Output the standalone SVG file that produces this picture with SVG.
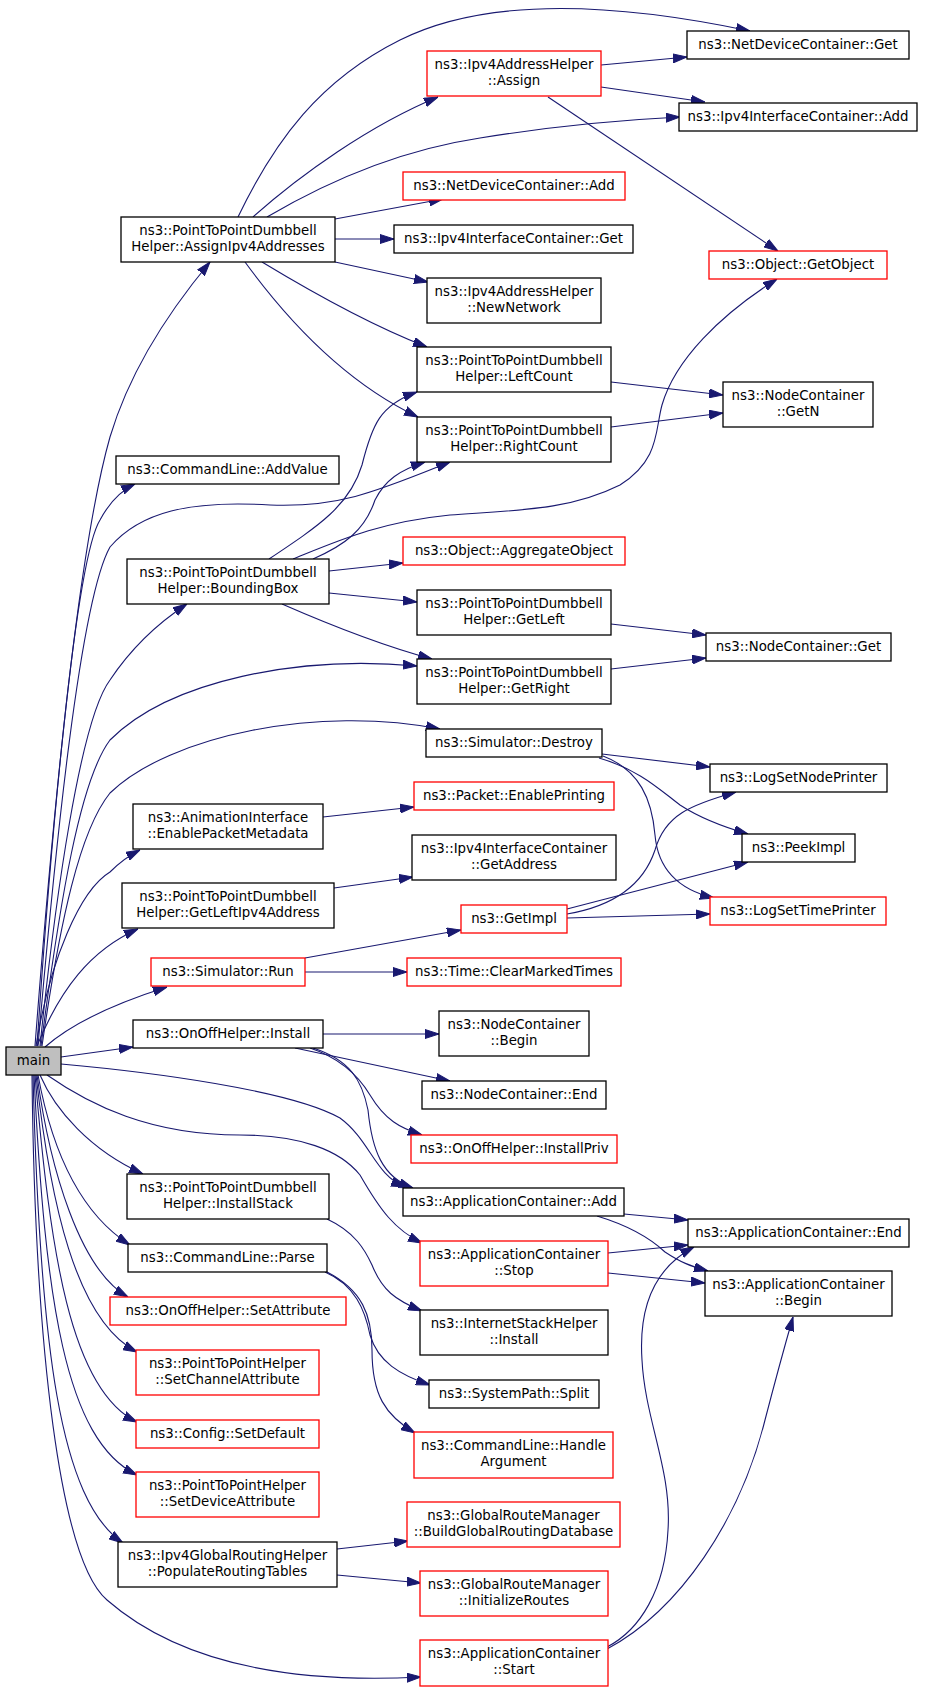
<svg xmlns="http://www.w3.org/2000/svg" width="944" height="1691" viewBox="0 0 944 1691">
<defs>
<style>
.e{fill:none;stroke:#191970;stroke-width:1.1;marker-end:url(#ah)}
.n rect{fill:#ffffff;stroke:#000000;stroke-width:1.3}
.r rect{fill:#ffffff;stroke:#ff0000;stroke-width:1.3}
.g rect{fill:#bfbfbf;stroke:#000000;stroke-width:1.3}
text{font-family:"DejaVu Sans","Liberation Sans",sans-serif;font-size:13.33px;fill:#000;text-anchor:middle}
</style>
<marker id="ah" markerUnits="userSpaceOnUse" markerWidth="14" markerHeight="10" refX="14" refY="5" orient="auto">
<path d="M0,0.5 L14,5 L0,9.5 z" fill="#191970" stroke="#191970" stroke-width="1"/>
</marker>
</defs>
<rect x="0" y="0" width="944" height="1691" fill="#ffffff"/>
<g id="connectors">
<path class="e" d="M35,1046 C50,850 75,560 110,437 C130,370 170,310 210,262"/>
<path class="e" d="M37,1046 C50,850 75,560 100,520 C108,505 118,492 135,484"/>
<path class="e" d="M38,1046 C55,850 80,600 110,547 C140,512 190,500 270,505 C340,508 380,490 450,462"/>
<path class="e" d="M40,1046 C55,900 80,720 110,680 C130,650 155,625 187,604"/>
<path class="e" d="M41,1046 C60,900 80,780 110,740 C170,680 300,655 417,666"/>
<path class="e" d="M42,1046 C60,920 80,830 110,793 C170,735 320,705 440,729"/>
<path class="e" d="M36,1046 C50,960 80,890 110,872 C120,862 128,856 140,850"/>
<path class="e" d="M37,1046 C60,990 90,950 138,929"/>
<path class="e" d="M45,1047 C70,1025 110,1005 167,987"/>
<path class="e" d="M61,1057 L133,1047"/>
<path class="e" d="M61,1064 C150,1072 290,1090 340,1118 C370,1140 375,1175 405,1187"/>
<path class="e" d="M47,1075 C90,1105 150,1135 240,1135 C300,1135 340,1150 360,1175 C380,1210 395,1230 422,1243"/>
<path class="e" d="M40,1075 C55,1110 90,1150 143,1174"/>
<path class="e" d="M38,1075 C50,1140 75,1210 130,1245"/>
<path class="e" d="M37,1075 C50,1170 80,1270 128,1297"/>
<path class="e" d="M36,1075 C50,1200 75,1320 137,1352"/>
<path class="e" d="M35,1075 C50,1250 70,1390 137,1422"/>
<path class="e" d="M34,1075 C45,1300 65,1440 137,1475"/>
<path class="e" d="M33,1075 C40,1350 60,1500 123,1543"/>
<path class="e" d="M32,1075 C35,1350 60,1560 107,1600 C170,1655 270,1685 421,1677"/>
<path class="e" d="M238,217 C275,140 320,80 400,40 C500,-10 650,10 750,31"/>
<path class="e" d="M253,217 C300,175 370,125 438,97"/>
<path class="e" d="M267,217 C330,180 400,150 480,138 C560,125 620,120 680,117"/>
<path class="e" d="M335,219 L443,199"/>
<path class="e" d="M335,239 L394,239"/>
<path class="e" d="M335,262 L428,282"/>
<path class="e" d="M262,262 C300,285 370,325 427,347"/>
<path class="e" d="M245,262 C280,310 340,380 418,417"/>
<path class="e" d="M601,65 L687,57"/>
<path class="e" d="M601,87 L705,102"/>
<path class="e" d="M548,97 L778,251"/>
<path class="e" d="M611,382 L723,395"/>
<path class="e" d="M611,427 L723,413"/>
<path class="e" d="M269,559 C320,525 350,505 362,465 C372,425 380,405 417,392"/>
<path class="e" d="M313,559 C345,545 365,530 375,500 C385,480 400,470 425,462"/>
<path class="e" d="M293,559 C340,540 380,522 450,515 C520,510 570,510 620,485 C660,460 655,430 662,405 C675,360 720,315 777,279"/>
<path class="e" d="M329,571 L403,563"/>
<path class="e" d="M329,593 L417,602"/>
<path class="e" d="M282,604 C330,625 380,645 432,659"/>
<path class="e" d="M611,624 L706,635"/>
<path class="e" d="M611,669 L706,658"/>
<path class="e" d="M602,754 L710,767"/>
<path class="e" d="M599,758 C640,770 660,790 680,805 C700,818 720,826 748,834"/>
<path class="e" d="M603,756 C640,770 652,800 655,835 C658,870 680,890 714,898"/>
<path class="e" d="M323,817 L414,807"/>
<path class="e" d="M334,888 L413,877"/>
<path class="e" d="M305,958 L461,930"/>
<path class="e" d="M305,972 L407,972"/>
<path class="e" d="M567,914 C620,905 645,880 655,850 C665,815 690,805 736,792"/>
<path class="e" d="M567,909 L748,862"/>
<path class="e" d="M567,918 L710,914"/>
<path class="e" d="M323,1034 L439,1034"/>
<path class="e" d="M295,1048 L450,1081"/>
<path class="e" d="M310,1048 C340,1058 358,1075 370,1095 C385,1120 400,1128 422,1135"/>
<path class="e" d="M313,1048 C350,1060 362,1080 368,1110 C372,1150 382,1177 413,1188"/>
<path class="e" d="M624,1214 L688,1220"/>
<path class="e" d="M597,1216 C630,1226 650,1238 665,1252 C680,1262 690,1266 708,1271"/>
<path class="e" d="M608,1253 L688,1245"/>
<path class="e" d="M608,1273 L705,1283"/>
<path class="e" d="M327,1219 C355,1232 365,1250 372,1265 C382,1290 395,1300 422,1311"/>
<path class="e" d="M325,1272 C355,1285 365,1310 370,1335 C378,1362 400,1375 430,1385"/>
<path class="e" d="M327,1272 C362,1290 372,1315 372,1350 C372,1395 385,1415 415,1433"/>
<path class="e" d="M337,1549 L408,1541"/>
<path class="e" d="M337,1575 L421,1583"/>
<path class="e" d="M607,1647 C640,1630 665,1590 668,1530 C672,1470 645,1420 642,1360 C638,1300 660,1265 694,1247"/>
<path class="e" d="M607,1649 C680,1610 740,1520 765,1420 C778,1370 785,1345 793,1317"/>
</g>
<g id="n_main" class="g"><rect x="6" y="1047" width="55" height="28"/><text x="33.5" y="1065">main</text></g>
<g id="n_assignAddr" class="n"><rect x="121" y="217" width="214" height="45"/><text x="228" y="234.5">ns3::PointToPointDumbbell</text><text x="228" y="251">Helper::AssignIpv4Addresses</text></g>
<g id="n_addValue" class="n"><rect x="116" y="456" width="223" height="28"/><text x="227.5" y="474">ns3::CommandLine::AddValue</text></g>
<g id="n_bbox" class="n"><rect x="127" y="559" width="202" height="45"/><text x="228" y="576.5">ns3::PointToPointDumbbell</text><text x="228" y="593">Helper::BoundingBox</text></g>
<g id="n_epm" class="n"><rect x="133" y="804" width="190" height="45"/><text x="228" y="821.5">ns3::AnimationInterface</text><text x="228" y="838">::EnablePacketMetadata</text></g>
<g id="n_getLeftIpv4" class="n"><rect x="122" y="883" width="212" height="45"/><text x="228" y="900.5">ns3::PointToPointDumbbell</text><text x="228" y="917">Helper::GetLeftIpv4Address</text></g>
<g id="n_simRun" class="r"><rect x="151" y="958" width="154" height="28"/><text x="228" y="976">ns3::Simulator::Run</text></g>
<g id="n_onoffInstall" class="n"><rect x="133" y="1020" width="190" height="28"/><text x="228" y="1038">ns3::OnOffHelper::Install</text></g>
<g id="n_installStack" class="n"><rect x="127" y="1174" width="202" height="45"/><text x="228" y="1191.5">ns3::PointToPointDumbbell</text><text x="228" y="1208">Helper::InstallStack</text></g>
<g id="n_parse" class="n"><rect x="128" y="1244" width="199" height="28"/><text x="227.5" y="1262">ns3::CommandLine::Parse</text></g>
<g id="n_setAttr" class="r"><rect x="110" y="1297" width="236" height="28"/><text x="228" y="1315">ns3::OnOffHelper::SetAttribute</text></g>
<g id="n_setChan" class="r"><rect x="136" y="1350" width="183" height="45"/><text x="227.5" y="1367.5">ns3::PointToPointHelper</text><text x="227.5" y="1384">::SetChannelAttribute</text></g>
<g id="n_setDefault" class="r"><rect x="136" y="1420" width="183" height="28"/><text x="227.5" y="1438">ns3::Config::SetDefault</text></g>
<g id="n_setDev" class="r"><rect x="136" y="1472" width="183" height="45"/><text x="227.5" y="1489.5">ns3::PointToPointHelper</text><text x="227.5" y="1506">::SetDeviceAttribute</text></g>
<g id="n_populate" class="n"><rect x="118" y="1542" width="219" height="45"/><text x="227.5" y="1559.5">ns3::Ipv4GlobalRoutingHelper</text><text x="227.5" y="1576">::PopulateRoutingTables</text></g>
<g id="n_assign" class="r"><rect x="427" y="51" width="174" height="45"/><text x="514" y="68.5">ns3::Ipv4AddressHelper</text><text x="514" y="85">::Assign</text></g>
<g id="n_ndcAdd" class="r"><rect x="403" y="172" width="222" height="28"/><text x="514" y="190">ns3::NetDeviceContainer::Add</text></g>
<g id="n_iicGet" class="n"><rect x="394" y="225" width="239" height="28"/><text x="513.5" y="243">ns3::Ipv4InterfaceContainer::Get</text></g>
<g id="n_newNet" class="n"><rect x="427" y="278" width="174" height="45"/><text x="514" y="295.5">ns3::Ipv4AddressHelper</text><text x="514" y="312">::NewNetwork</text></g>
<g id="n_leftCount" class="n"><rect x="417" y="347" width="194" height="45"/><text x="514" y="364.5">ns3::PointToPointDumbbell</text><text x="514" y="381">Helper::LeftCount</text></g>
<g id="n_rightCount" class="n"><rect x="417" y="417" width="194" height="45"/><text x="514" y="434.5">ns3::PointToPointDumbbell</text><text x="514" y="451">Helper::RightCount</text></g>
<g id="n_aggregate" class="r"><rect x="403" y="537" width="222" height="28"/><text x="514" y="555">ns3::Object::AggregateObject</text></g>
<g id="n_getLeft" class="n"><rect x="417" y="590" width="194" height="45"/><text x="514" y="607.5">ns3::PointToPointDumbbell</text><text x="514" y="624">Helper::GetLeft</text></g>
<g id="n_getRight" class="n"><rect x="417" y="659" width="194" height="45"/><text x="514" y="676.5">ns3::PointToPointDumbbell</text><text x="514" y="693">Helper::GetRight</text></g>
<g id="n_destroy" class="n"><rect x="426" y="729" width="176" height="28"/><text x="514" y="747">ns3::Simulator::Destroy</text></g>
<g id="n_enablePrinting" class="r"><rect x="414" y="782" width="200" height="28"/><text x="514" y="800">ns3::Packet::EnablePrinting</text></g>
<g id="n_getAddress" class="n"><rect x="412" y="835" width="204" height="45"/><text x="514" y="852.5">ns3::Ipv4InterfaceContainer</text><text x="514" y="869">::GetAddress</text></g>
<g id="n_getImpl" class="r"><rect x="461" y="905" width="106" height="28"/><text x="514" y="923">ns3::GetImpl</text></g>
<g id="n_clearMarked" class="r"><rect x="407" y="958" width="214" height="28"/><text x="514" y="976">ns3::Time::ClearMarkedTimes</text></g>
<g id="n_ncBegin" class="n"><rect x="439" y="1011" width="150" height="45"/><text x="514" y="1028.5">ns3::NodeContainer</text><text x="514" y="1045">::Begin</text></g>
<g id="n_ncEnd" class="n"><rect x="422" y="1081" width="184" height="28"/><text x="514" y="1099">ns3::NodeContainer::End</text></g>
<g id="n_installPriv" class="r"><rect x="411" y="1135" width="206" height="28"/><text x="514" y="1153">ns3::OnOffHelper::InstallPriv</text></g>
<g id="n_appAdd" class="n"><rect x="403" y="1188" width="221" height="28"/><text x="513.5" y="1206">ns3::ApplicationContainer::Add</text></g>
<g id="n_appStop" class="r"><rect x="420" y="1241" width="188" height="45"/><text x="514" y="1258.5">ns3::ApplicationContainer</text><text x="514" y="1275">::Stop</text></g>
<g id="n_ishInstall" class="n"><rect x="420" y="1310" width="188" height="45"/><text x="514" y="1327.5">ns3::InternetStackHelper</text><text x="514" y="1344">::Install</text></g>
<g id="n_split" class="n"><rect x="429" y="1380" width="170" height="28"/><text x="514" y="1398">ns3::SystemPath::Split</text></g>
<g id="n_handleArg" class="r"><rect x="414" y="1432" width="199" height="46"/><text x="513.5" y="1449.5">ns3::CommandLine::Handle</text><text x="513.5" y="1466">Argument</text></g>
<g id="n_buildGRD" class="r"><rect x="407" y="1502" width="213" height="45"/><text x="513.5" y="1519.5">ns3::GlobalRouteManager</text><text x="513.5" y="1536">::BuildGlobalRoutingDatabase</text></g>
<g id="n_initRoutes" class="r"><rect x="420" y="1571" width="188" height="45"/><text x="514" y="1588.5">ns3::GlobalRouteManager</text><text x="514" y="1605">::InitializeRoutes</text></g>
<g id="n_appStart" class="r"><rect x="420" y="1640" width="188" height="46"/><text x="514" y="1657.5">ns3::ApplicationContainer</text><text x="514" y="1674">::Start</text></g>
<g id="n_ndcGet" class="n"><rect x="687" y="31" width="222" height="28"/><text x="798" y="49">ns3::NetDeviceContainer::Get</text></g>
<g id="n_iicAdd" class="n"><rect x="679" y="103" width="238" height="28"/><text x="798" y="121">ns3::Ipv4InterfaceContainer::Add</text></g>
<g id="n_getObject" class="r"><rect x="709" y="251" width="178" height="28"/><text x="798" y="269">ns3::Object::GetObject</text></g>
<g id="n_getN" class="n"><rect x="723" y="382" width="150" height="45"/><text x="798" y="399.5">ns3::NodeContainer</text><text x="798" y="416">::GetN</text></g>
<g id="n_ncGet" class="n"><rect x="706" y="633" width="185" height="28"/><text x="798.5" y="651">ns3::NodeContainer::Get</text></g>
<g id="n_logNode" class="n"><rect x="710" y="764" width="177" height="28"/><text x="798.5" y="782">ns3::LogSetNodePrinter</text></g>
<g id="n_peek" class="n"><rect x="742" y="834" width="113" height="28"/><text x="798.5" y="852">ns3::PeekImpl</text></g>
<g id="n_logTime" class="r"><rect x="710" y="897" width="176" height="28"/><text x="798" y="915">ns3::LogSetTimePrinter</text></g>
<g id="n_appEnd" class="n"><rect x="688" y="1219" width="221" height="28"/><text x="798.5" y="1237">ns3::ApplicationContainer::End</text></g>
<g id="n_appBegin" class="n"><rect x="705" y="1271" width="187" height="45"/><text x="798.5" y="1288.5">ns3::ApplicationContainer</text><text x="798.5" y="1305">::Begin</text></g>
</svg>
